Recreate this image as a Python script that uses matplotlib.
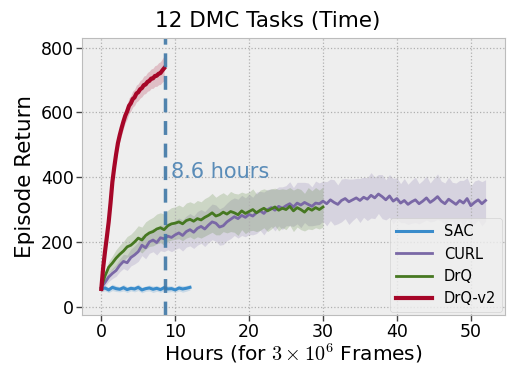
import numpy as np
import matplotlib
matplotlib.use("Agg")
from matplotlib import pyplot as plt

# mean return per method (hours on a regular grid)
sac_step = 0.5
sac_mean = [55, 58, 52, 60, 56, 54, 59, 53, 57, 55, 60, 52, 56,
            58, 54, 57, 53, 59, 55, 56, 52, 58, 55, 57, 60]
sac_std = [8, 9, 8, 10, 9, 8, 10, 9, 8, 9, 10, 9, 8,
           9, 10, 9, 8, 9, 10, 9, 8, 9, 10, 9, 8]

drqv2_step = 0.25
drqv2_mean = [55, 120, 170, 215, 262, 320, 385, 430, 470, 505,
              530, 552, 572, 590, 603, 620, 628, 641, 646, 658,
              662, 671, 675, 684, 686, 694, 697, 704, 705, 712,
              713, 719, 721, 729, 736]
drqv2_std = [8, 10, 12, 14, 15, 16, 18, 18, 20, 20,
             20, 22, 22, 22, 24, 24, 24, 25, 25, 26,
             26, 27, 27, 28, 28, 29, 30, 30, 31, 32,
             33, 34, 35, 36, 38]

curl_step = 0.5
curl_mean = [60, 75, 92, 103, 112, 128, 140, 136, 152, 160,
             170, 190, 182, 200, 206, 198, 213, 210, 218, 214,
             222, 228, 220, 232, 238, 230, 242, 248, 240, 252,
             262, 258, 246, 250, 262, 270, 278, 272, 282, 276,
             285, 280, 290, 296, 288, 300, 306, 298, 310, 304,
             312, 318, 308, 320, 314, 322, 316, 310, 320, 318,
             326, 318, 330, 322, 316, 328, 334, 324, 330, 336,
             328, 338, 332, 344, 336, 348, 340, 330, 342, 326,
             334, 320, 328, 316, 324, 330, 318, 326, 336, 322,
             330, 340, 326, 318, 332, 324, 316, 328, 320, 334,
             312, 322, 330, 318, 328]
curl_std = [10, 12, 14, 16, 18, 20, 22, 24, 26, 28,
            30, 32, 34, 35, 36, 38, 40, 40, 42, 44,
            45, 46, 48, 48, 50, 50, 52, 52, 54, 54,
            55, 56, 56, 58, 58, 60, 58, 60, 62, 60,
            62, 58, 64, 60, 66, 62, 58, 64, 60, 66,
            62, 68, 60, 64, 70, 62, 66, 60, 68, 64,
            62, 68, 64, 70, 60, 66, 62, 70, 64, 60,
            68, 62, 66, 70, 64, 60, 68, 62, 66, 70,
            64, 60, 68, 62, 66, 70, 62, 64, 68, 60,
            66, 70, 62, 64, 68, 60, 66, 62, 70, 64,
            60, 66, 62, 68, 64]

drq_step = 0.5
drq_mean = [60, 95, 122, 135, 150, 162, 172, 185, 190, 200,
            212, 206, 220, 228, 232, 240, 244, 238, 250, 256,
            258, 262, 256, 266, 270, 264, 272, 268, 276, 282,
            290, 280, 284, 292, 286, 294, 290, 284, 296, 288,
            294, 300, 290, 298, 304, 296, 302, 308, 298, 304,
            300, 310, 296, 306, 300, 292, 304, 298, 306, 300,
            308]
drq_std = [10, 14, 18, 22, 26, 28, 30, 32, 34, 36,
           38, 40, 42, 42, 44, 46, 46, 48, 48, 50,
           50, 52, 52, 54, 54, 55, 56, 56, 58, 58,
           60, 58, 62, 60, 58, 62, 60, 64, 58, 62,
           60, 64, 58, 62, 60, 64, 62, 58, 64, 60,
           62, 58, 64, 60, 62, 58, 64, 60, 62, 60,
           62]

labels = ["SAC", "CURL", "DrQ", "DrQ-v2"]
colors = ["#3a8ccb", "#7a68a6", "#467821", "#a60628"]
widths = [2.2, 2.0, 2.0, 3.0]
series = [(sac_step, sac_mean, sac_std),
          (curl_step, curl_mean, curl_std),
          (drq_step, drq_mean, drq_std),
          (drqv2_step, drqv2_mean, drqv2_std)]

mark_hours = 8.6

plt.style.use("bmh")
plt.rcParams["mathtext.fontset"] = "cm"
fig = plt.figure(figsize=(5.13, 3.67), dpi=100)
ax = fig.add_axes([0.16, 0.142, 0.824, 0.755])

for (step, mean, std), lab, col, lw in zip(series, labels, colors, widths):
    mean = np.array(mean, dtype=float)
    std = np.array(std, dtype=float)
    hours = np.arange(len(mean)) * step
    ax.fill_between(hours, mean - std, mean + std, color=col, alpha=0.2, lw=0)
    ax.plot(hours, mean, color=col, lw=lw, label=lab)

ax.axvline(mark_hours, color="#3f77a6", lw=2.5, ls=(0, (4, 2.5)), alpha=0.9)
ax.text(mark_hours + 0.9, 415, "8.6 hours", color="#5a8cb8", fontsize=15,
        va="center", ha="left")

ax.set_ylim(-25, 830)
ax.set_xticks([0, 10, 20, 30, 40, 50])
ax.set_yticks([0, 200, 400, 600, 800])
ax.tick_params(labelsize=12.5, length=4, width=1, color="#444444",
               direction="out", pad=2)
ax.grid(True, ls=":", color="#b0b0b0", lw=0.9)
ax.set_title("12 DMC Tasks (Time)", fontsize=15.5, x=0.44, pad=8)
ax.set_xlabel(r"Hours (for $3\times10^6$ Frames)", fontsize=14.5, labelpad=0)
ax.set_ylabel("Episode Return", fontsize=15.5, labelpad=4)

leg = ax.legend(loc="lower right", fontsize=10.5, frameon=True,
                borderaxespad=0.2, handlelength=2.5, labelspacing=0.5)

fig.savefig("out.png", dpi=100)
